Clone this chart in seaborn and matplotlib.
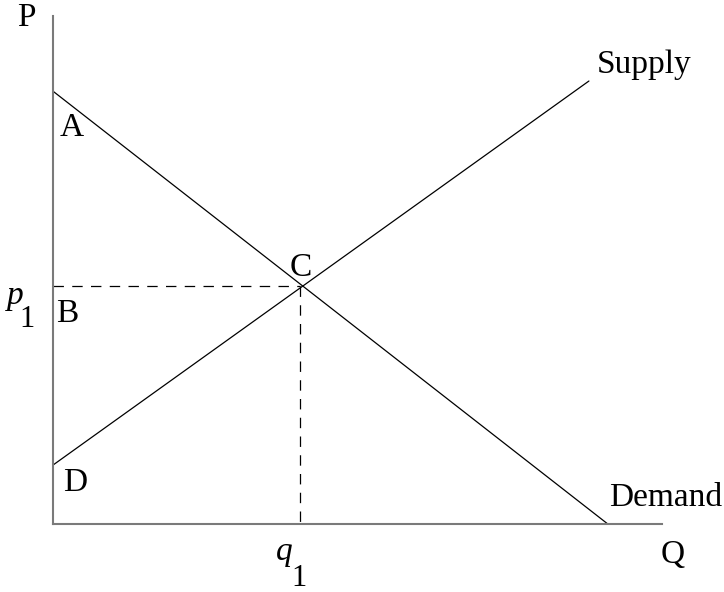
import matplotlib
matplotlib.use("Agg")
import matplotlib.pyplot as plt
import seaborn as sns
import pandas as pd

# Data (Q, P units: axes span 0..100 in both)
demand_q = [0.0, 91.1]
demand_p = [85.2, 0.0]
supply_q = [0.0, 88.0]
supply_p = [11.6, 87.2]
q1 = 40.6
p1 = 46.8

sns.set_style("white")
plt.rcParams["font.family"] = ["Liberation Serif", "DejaVu Serif"]
plt.rcParams["lines.scale_dashes"] = False

fig = plt.figure(figsize=(7.24, 5.92), dpi=100)
ax = fig.add_axes([53 / 724, (592 - 524) / 592, 609 / 724, 508 / 592])

df_d = pd.DataFrame({"Q": demand_q, "P": demand_p})
df_s = pd.DataFrame({"Q": supply_q, "P": supply_p})
sns.lineplot(data=df_d, x="Q", y="P", ax=ax, color="black", linewidth=0.9,
             sort=False, estimator=None)
sns.lineplot(data=df_s, x="Q", y="P", ax=ax, color="black", linewidth=0.9,
             sort=False, estimator=None)

df_h = pd.DataFrame({"Q": [0.0, q1], "P": [p1, p1]})
df_v = pd.DataFrame({"Q": [q1, q1], "P": [p1, 0.0]})
for d in (df_h, df_v):
    sns.lineplot(data=d, x="Q", y="P", ax=ax, color="black", linewidth=0.9,
                 sort=False, estimator=None, linestyle=(0, (7.5, 6)))

ax.set_xlim(0, 100)
ax.set_ylim(0, 100)
ax.set_xticks([])
ax.set_yticks([])
ax.set_xlabel("")
ax.set_ylabel("")
for s in ("top", "right"):
    ax.spines[s].set_visible(False)
for s in ("left", "bottom"):
    ax.spines[s].set_color("#7a7a7a")
    ax.spines[s].set_linewidth(1.5)

fs = 24
kw = dict(fontsize=fs, color="black", clip_on=False)
ax.text(-4.3, 99.6, "P", ha="center", va="center", **kw)
ax.text(101.8, -6.1, "Q", ha="center", va="center", **kw)
ax.text(3.0, 78.0, "A", ha="center", va="center", **kw)
ax.text(2.3, 41.3, "B", ha="center", va="center", **kw)
ax.text(40.7, 50.4, "C", ha="center", va="center", **kw)
ax.text(3.6, 8.1, "D", ha="center", va="center", **kw)
ax.text(89.3, 90.4, "Supply", ha="left", va="center", **kw)
ax.text(91.3, 5.1, "Demand", ha="left", va="center", **kw)
ax.text(-6.2, 43.3, "p", ha="center", va="baseline", style="italic", **kw)
ax.text(-4.2, 38.8, "1", ha="center", va="baseline", fontsize=22, color="black", clip_on=False)
ax.text(38.0, -7.1, "q", ha="center", va="baseline", style="italic", **kw)
ax.text(40.4, -12.2, "1", ha="center", va="baseline", fontsize=22, color="black", clip_on=False)

fig.savefig("out.png", dpi=100)
